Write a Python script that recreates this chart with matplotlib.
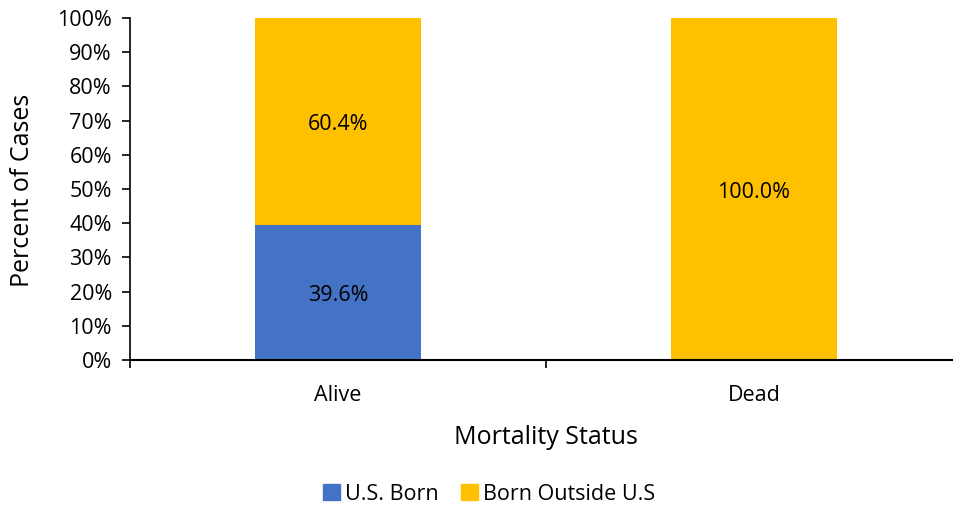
import matplotlib
matplotlib.use("Agg")
import matplotlib.pyplot as plt
from matplotlib.patches import Patch
from matplotlib.ticker import MultipleLocator, FuncFormatter
from matplotlib.transforms import offset_copy

categories = ["Alive", "Dead"]
us_born = [39.6, 0.0]
born_outside = [60.4, 100.0]
series_names = ["U.S. Born", "Born Outside U.S"]
colors = ["#4472C4", "#FFC000"]

plt.rcParams["font.family"] = ["Open Sans", "DejaVu Sans"]

fig = plt.figure(figsize=(9.54, 5.08), dpi=100)
ax = fig.add_axes([130/954, 148/508, 832/954, 342/508])

x = [0, 1]
ax.bar(x, us_born, width=0.4, color=colors[0])
ax.bar(x, born_outside, width=0.4, bottom=us_born, color=colors[1])

fs = 15.5
tr = offset_copy(ax.transData, fig=fig, x=0, y=-3, units="dots")
for i in range(len(categories)):
    if us_born[i] > 0:
        ax.text(x[i], us_born[i] / 2, f"{us_born[i]:.1f}%", ha="center", va="center", fontsize=fs, color="#000000", transform=tr)
    if born_outside[i] > 0:
        ax.text(x[i], us_born[i] + born_outside[i] / 2, f"{born_outside[i]:.1f}%", ha="center", va="center", fontsize=fs, color="#000000", transform=tr)

ax.set_xlim(-0.5, 1.5)
ax.set_ylim(0, 100)
ax.yaxis.set_major_locator(MultipleLocator(10))
ax.yaxis.set_major_formatter(FuncFormatter(lambda v, p: f"{int(v)}%"))
ax.set_xticks(x)
ax.set_xticklabels(categories)
ax.set_xticks([-0.5, 0.5, 1.5], minor=True)
ax.tick_params(axis="x", which="major", length=0, labelsize=fs, pad=18)
ax.tick_params(axis="x", which="minor", length=6, width=1.2, direction="out")
ax.tick_params(axis="y", length=6, width=1.2, direction="out", labelsize=fs, pad=7)

for s in ["top", "right"]:
    ax.spines[s].set_visible(False)
ax.spines["left"].set_linewidth(1.2)
ax.spines["bottom"].set_linewidth(1.5)

fig.text(23/954, 1 - 190/508, "Percent of Cases", rotation=90, ha="center", va="center", fontsize=18)
fig.text(546/954, 1 - 437/508, "Mortality Status", ha="center", va="center", fontsize=18)

handles = [Patch(color=c, label=n) for c, n in zip(colors, series_names)]
fig.legend(handles=handles, loc="center", bbox_to_anchor=(489/954, 1 - 494/508), ncol=2,
           frameon=False, fontsize=fs, handlelength=0.8, handleheight=0.8,
           handletextpad=0.25, columnspacing=1.0, borderpad=0, borderaxespad=0)

fig.savefig("out.png", dpi=100)
